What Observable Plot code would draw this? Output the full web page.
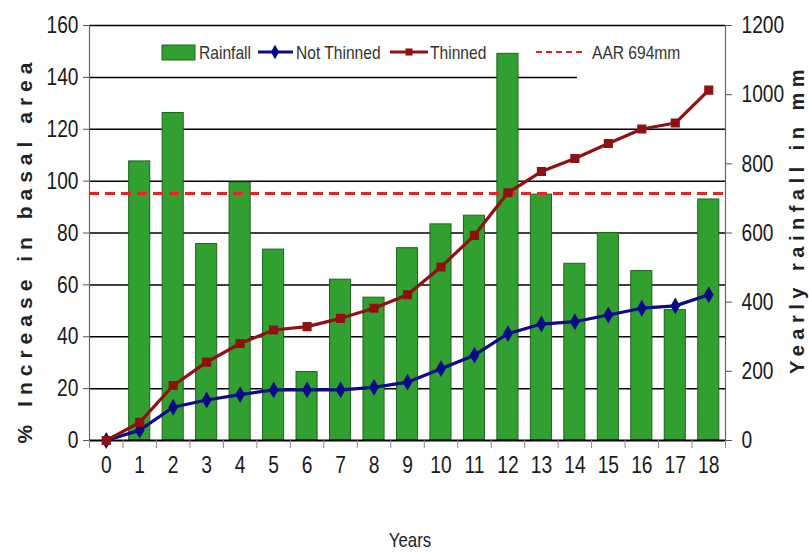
<!DOCTYPE html>
<html><head><meta charset="utf-8">
<script src="https://cdn.jsdelivr.net/npm/d3@7"></script>
<script src="https://cdn.jsdelivr.net/npm/@observablehq/plot@0.6"></script>
<style>
body{margin:0;background:#fff}
svg{display:block}
</style>
</head><body><div id="chart"></div>
<script>
// ---- data ----
const years = [0,1,2,3,4,5,6,7,8,9,10,11,12,13,14,15,16,17,18];
const rainfallMm = [null,807,947,568,746,552,198,465,413,556,625,650,1118,711,511,600,490,377,697];
const notThinned = [0,4,12.8,15.6,17.7,19.5,19.5,19.5,20.5,22.5,27.7,32.9,41.2,44.9,45.8,48.4,51,51.9,56.2];
const thinned = [0,7,21.2,30.2,37.4,42.6,43.9,47.1,51,56.2,66.9,79.1,95.5,103.7,108.7,114.5,120.1,122.4,135.1];
const leftTicks = [0,20,40,60,80,100,120,140,160];
const rightTicks = [0,200,400,600,800,1000,1200];
const aarText = "AAR 694mm";
const aarLineMm = 714;          // where the dashed line sits in the picture
const mmPerPercent = 1200 / 160; // right axis 0–1200 mm aligned with left 0–160 %

const seriesNames = ["Rainfall","Not Thinned","Thinned"];
const colors = {bar:"#31a031", barStroke:"#1d641d", blue:"#0a0a8a", red:"#8f1111", aar:"#e02525"};

const SANS = "'Liberation Sans',Arial,sans-serif";

const bars = years.map((y,i)=>({year:y, mm:rainfallMm[i]})).filter(d=>d.mm!=null);
const lines = years.flatMap((y,i)=>[
  {year:y, value:notThinned[i], series:"Not Thinned"},
  {year:y, value:thinned[i], series:"Thinned"}
]);
const grid = leftTicks.filter(t=>t>0).map(t=>({t, end: t===140 ? 14.08 : 18.5}));

const plot = Plot.plot({
  width: 809, height: 552,
  marginLeft: 89, marginRight: 84, marginTop: 25, marginBottom: 112,
  style: {fontFamily: SANS, fontSize: "24px", color: "#1a1a1a", background: "#fff", overflow: "visible"},
  x: {domain: [-0.5, 18.5]},
  y: {domain: [0, 160]},
  marks: [
    Plot.ruleY(grid, {y: "t", x1: -0.5, x2: "end", stroke: "#000", strokeWidth: 1.5}),
    Plot.rect(bars, {x1: d=>d.year-0.315, x2: d=>d.year+0.315, y1: 0, y2: d=>d.mm/mmPerPercent,
      fill: colors.bar, stroke: colors.barStroke, strokeWidth: 1}),
    Plot.ruleX([-0.5, 18.5], {stroke: "#666", strokeWidth: 1.2}),
    Plot.ruleY([0], {stroke: "#000", strokeWidth: 2}),
    Plot.ruleY([aarLineMm/mmPerPercent], {stroke: colors.aar, strokeWidth: 3, strokeDasharray: "10,6"}),
    Plot.line(lines.filter(d=>d.series==="Not Thinned"), {x:"year", y:"value", stroke: colors.blue, strokeWidth: 3.2}),
    Plot.dot(lines.filter(d=>d.series==="Not Thinned"), {x:"year", y:"value", symbol:"diamond", r: 4.2, fill: colors.blue, stroke: colors.blue}),
    Plot.line(lines.filter(d=>d.series==="Thinned"), {x:"year", y:"value", stroke: colors.red, strokeWidth: 3.2}),
    Plot.dot(lines.filter(d=>d.series==="Thinned"), {x:"year", y:"value", symbol:"square", r: 4.3, fill: colors.red, stroke: colors.red}),
    Plot.axisY({ticks: leftTicks, tickSize: 6, tickPadding: 5, label: null, stroke: "#555"}),
    Plot.axisY({anchor: "right", ticks: rightTicks.map(v=>v/mmPerPercent), tickFormat: d=>String(Math.round(d*mmPerPercent)),
      tickSize: 6, tickPadding: 10, label: null, stroke: "#555"}),
    Plot.axisX({ticks: years, tickSize: 0, tickPadding: 15, label: null, tickFormat: d=>String(d)}),
    Plot.axisX({ticks: d3.range(-0.5, 19, 1), tickSize: 8, tickFormat: ()=>"", label: null, stroke: "#888"})
  ]
});
document.getElementById("chart").appendChild(plot);

const svg = d3.select(plot);
// narrow look of the original (Arial Narrow): compress labels horizontally
function narrow(sel, f){
  sel.each(function(){
    const w = this.getComputedTextLength();
    if (w > 0){ this.setAttribute("textLength", (w*f).toFixed(1)); this.setAttribute("lengthAdjust","spacingAndGlyphs"); }
  });
}
narrow(svg.selectAll("text"), 0.8);

// ---- titles and legend ----
svg.append("text").attr("transform","translate(24,250) rotate(-90)")
  .attr("text-anchor","middle").attr("dominant-baseline","central")
  .style("font-family",SANS).style("font-weight","bold").style("font-size","21px")
  .style("letter-spacing","6px").attr("fill","#222").text("% Increase in basal area");
svg.append("text").attr("transform","translate(797,219) rotate(-90)")
  .attr("text-anchor","middle").attr("dominant-baseline","central")
  .style("font-family",SANS).style("font-weight","bold").style("font-size","20px")
  .style("letter-spacing","5.5px").attr("fill","#222").text("Yearly rainfall in mm");
const yrs = svg.append("text").attr("x",410).attr("y",547).attr("text-anchor","middle")
  .style("font-family",SANS).style("font-size","21px").attr("fill","#222").text("Years");
narrow(yrs, 0.8);

const lg = svg.append("g").attr("text-anchor","start")
  .style("font-family",SANS).style("font-size","19px").attr("fill","#333");
const ly = 52;
lg.append("rect").attr("x",162).attr("y",45).attr("width",33).attr("height",15)
  .attr("fill",colors.bar).attr("stroke",colors.barStroke);
lg.append("text").attr("x",199).attr("y",ly).attr("dominant-baseline","central").text(seriesNames[0]);
lg.append("line").attr("x1",258).attr("x2",293).attr("y1",ly).attr("y2",ly).attr("stroke",colors.blue).attr("stroke-width",3);
lg.append("path").attr("transform",`translate(275,${ly})`).attr("d",d3.symbol(d3.symbolDiamond,60)()).attr("fill",colors.blue);
lg.append("text").attr("x",296).attr("y",ly).attr("dominant-baseline","central").text(seriesNames[1]);
lg.append("line").attr("x1",390).attr("x2",428).attr("y1",ly).attr("y2",ly).attr("stroke",colors.red).attr("stroke-width",3);
lg.append("path").attr("transform",`translate(409,${ly})`).attr("d",d3.symbol(d3.symbolSquare,50)()).attr("fill",colors.red);
lg.append("text").attr("x",430).attr("y",ly).attr("dominant-baseline","central").text(seriesNames[2]);
lg.append("line").attr("x1",536).attr("x2",582).attr("y1",ly).attr("y2",ly).attr("stroke",colors.aar)
  .attr("stroke-width",2).attr("stroke-dasharray","6,4");
lg.append("text").attr("x",592).attr("y",ly).attr("dominant-baseline","central").text(aarText);
narrow(lg.selectAll("text"), 0.82);
</script>
</body></html>
